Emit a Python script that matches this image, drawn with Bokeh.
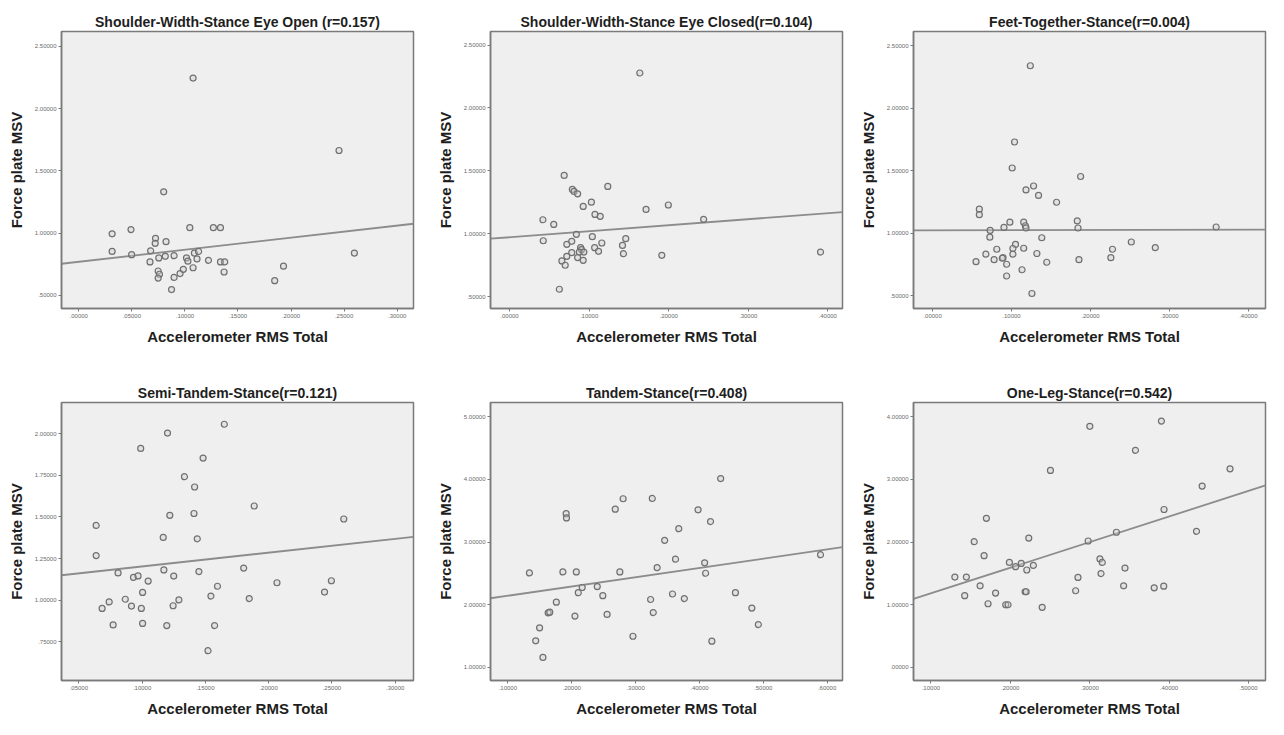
from bokeh.plotting import figure
from bokeh.layouts import column, row
from bokeh.models import FixedTicker, Range1d, ColumnDataSource
from bokeh.embed import file_html
from bokeh.resources import INLINE

# ---------------- data ----------------
titles = [
    "Shoulder-Width-Stance Eye Open (r=0.157)",
    "Shoulder-Width-Stance Eye Closed(r=0.104)",
    "Feet-Together-Stance(r=0.004)",
    "Semi-Tandem-Stance(r=0.121)",
    "Tandem-Stance(r=0.408)",
    "One-Leg-Stance(r=0.542)",
]
x_label = "Accelerometer RMS Total"
y_label = "Force plate MSV"

# panel 1
x1 = [0.1077, 0.2452, 0.0800, 0.0314, 0.0492, 0.0314, 0.0498, 0.0723, 0.0720, 0.0822,
      0.1046, 0.1268, 0.1335, 0.0677, 0.0671, 0.0754, 0.0815, 0.0898, 0.1015, 0.1028,
      0.1089, 0.1129, 0.1114, 0.1222, 0.1335, 0.1375, 0.1369, 0.0748, 0.0760, 0.0748,
      0.0874, 0.0898, 0.0954, 0.0985, 0.1077, 0.1846, 0.1929, 0.2597]
y1 = [2.244, 1.663, 1.331, 0.994, 1.028, 0.853, 0.827, 0.958, 0.918, 0.931,
      1.044, 1.044, 1.044, 0.858, 0.769, 0.801, 0.814, 0.819, 0.801, 0.775,
      0.840, 0.853, 0.793, 0.782, 0.769, 0.769, 0.688, 0.696, 0.670, 0.639,
      0.547, 0.644, 0.675, 0.709, 0.722, 0.618, 0.735, 0.840]
# panel 2
x2 = [0.1638, 0.0687, 0.0790, 0.0811, 0.0856, 0.1235, 0.1029, 0.0926, 0.1074, 0.1140,
      0.1716, 0.1996, 0.2440, 0.0420, 0.0556, 0.0424, 0.0840, 0.1041, 0.0720, 0.0782,
      0.0893, 0.0905, 0.0877, 0.0934, 0.0782, 0.0720, 0.0658, 0.0700, 0.0856, 0.0926,
      0.1070, 0.1119, 0.1160, 0.1420, 0.1461, 0.1432, 0.1914, 0.0626, 0.3909]
y2 = [2.278, 1.463, 1.352, 1.336, 1.317, 1.376, 1.251, 1.217, 1.153, 1.138,
      1.193, 1.228, 1.114, 1.111, 1.074, 0.944, 0.995, 0.976, 0.915, 0.939,
      0.889, 0.873, 0.854, 0.854, 0.849, 0.820, 0.783, 0.749, 0.810, 0.788,
      0.889, 0.860, 0.926, 0.907, 0.960, 0.841, 0.828, 0.558, 0.854]
# panel 3
x3 = [0.1238, 0.1038, 0.1008, 0.1875, 0.1279, 0.1183, 0.1342, 0.1571, 0.0592, 0.0592,
      0.0979, 0.1154, 0.1175, 0.1183, 0.0904, 0.1833, 0.1842, 0.3592, 0.0729, 0.0725,
      0.1383, 0.1050, 0.1017, 0.1154, 0.0813, 0.0675, 0.1017, 0.1321, 0.2517, 0.2279,
      0.2821, 0.2258, 0.1854, 0.0779, 0.0892, 0.0883, 0.0938, 0.1446, 0.0550, 0.1133,
      0.0938, 0.1258]
y3 = [2.338, 1.728, 1.520, 1.452, 1.376, 1.345, 1.301, 1.246, 1.191, 1.147,
      1.087, 1.087, 1.058, 1.040, 1.045, 1.097, 1.040, 1.048, 1.021, 0.967,
      0.962, 0.909, 0.876, 0.878, 0.870, 0.831, 0.831, 0.836, 0.928, 0.870,
      0.883, 0.803, 0.787, 0.787, 0.803, 0.798, 0.750, 0.766, 0.771, 0.706,
      0.656, 0.516]
# panel 4
x4 = [0.1650, 0.1201, 0.0989, 0.1482, 0.1335, 0.1415, 0.1886, 0.1410, 0.1219, 0.2594,
      0.0637, 0.1167, 0.1436, 0.0637, 0.1172, 0.1449, 0.1803, 0.0810, 0.0932, 0.0968,
      0.1250, 0.1048, 0.1596, 0.2066, 0.2496, 0.1004, 0.2442, 0.1544, 0.0867, 0.1291,
      0.1847, 0.0740, 0.0684, 0.0916, 0.0994, 0.1245, 0.0771, 0.1004, 0.1195, 0.1573,
      0.1521]
y4 = [2.057, 2.004, 1.912, 1.854, 1.742, 1.680, 1.566, 1.521, 1.510, 1.488,
      1.449, 1.377, 1.369, 1.268, 1.182, 1.172, 1.193, 1.164, 1.137, 1.146,
      1.145, 1.115, 1.084, 1.105, 1.117, 1.047, 1.049, 1.025, 1.006, 1.002,
      1.010, 0.990, 0.951, 0.965, 0.951, 0.967, 0.852, 0.861, 0.848, 0.848,
      0.697]
# panel 5
x5 = [0.4333, 0.2805, 0.3262, 0.2682, 0.3979, 0.1913, 0.1918, 0.4174, 0.3677, 0.3456,
      0.3626, 0.4082, 0.3338, 0.5897, 0.1338, 0.1862, 0.2072, 0.2754, 0.4097, 0.2164,
      0.2400, 0.2103, 0.2487, 0.3579, 0.4564, 0.3236, 0.3764, 0.1759, 0.1631, 0.1656,
      0.2051, 0.2554, 0.3277, 0.4821, 0.4923, 0.1497, 0.2959, 0.1436, 0.4195, 0.1549]
y5 = [4.013, 3.691, 3.696, 3.525, 3.514, 3.452, 3.384, 3.327, 3.213, 3.026,
      2.725, 2.668, 2.590, 2.797, 2.506, 2.522, 2.522, 2.522, 2.501, 2.273,
      2.288, 2.190, 2.143, 2.169, 2.190, 2.081, 2.096, 2.039, 1.868, 1.878,
      1.816, 1.842, 1.873, 1.945, 1.681, 1.629, 1.494, 1.421, 1.416, 1.156]
# panel 6
x6 = [0.3904, 0.3002, 0.3577, 0.2506, 0.4768, 0.4417, 0.3937, 0.1699, 0.3337, 0.4346,
      0.2233, 0.1546, 0.2981, 0.1670, 0.1989, 0.2067, 0.2138, 0.2291, 0.2208, 0.3130,
      0.3159, 0.3445, 0.3143, 0.1302, 0.1447, 0.2853, 0.1620, 0.3428, 0.3813, 0.3933,
      0.1815, 0.2187, 0.2200, 0.2824, 0.1426, 0.1720, 0.1943, 0.1972, 0.2402]
y6 = [3.932, 3.849, 3.465, 3.143, 3.169, 2.894, 2.519, 2.379, 2.156, 2.171,
      2.062, 2.005, 2.016, 1.782, 1.673, 1.605, 1.657, 1.626, 1.553, 1.730,
      1.673, 1.584, 1.496, 1.439, 1.439, 1.434, 1.299, 1.299, 1.268, 1.294,
      1.184, 1.205, 1.205, 1.221, 1.143, 1.013, 0.997, 0.997, 0.956]

# axis ranges (x_start, x_end, y_start, y_end)
x_ranges = [(-0.0163, 0.3154), (-0.0239, 0.4185), (-0.0242, 0.4217),
            (0.0363, 0.3145), (0.0728, 0.6241), (0.0781, 0.5215)]
y_ranges = [(0.395, 2.618), (0.405, 2.608), (0.396, 2.612),
            (0.518, 2.1875), (0.787, 5.229), (-0.213, 4.229)]

# fit line y-values at left and right edges of x range
fit_left = [0.754, 0.960, 1.021, 1.150, 2.101, 1.091]
fit_right = [1.075, 1.172, 1.027, 1.381, 2.917, 2.904]

# tick values and labels
x_ticks = [
    [0.0, 0.05, 0.10, 0.15, 0.20, 0.25, 0.30],
    [0.0, 0.10, 0.20, 0.30, 0.40],
    [0.0, 0.10, 0.20, 0.30, 0.40],
    [0.05, 0.10, 0.15, 0.20, 0.25, 0.30],
    [0.10, 0.20, 0.30, 0.40, 0.50, 0.60],
    [0.10, 0.20, 0.30, 0.40, 0.50],
]
x_tick_labels = [
    [".00000", ".05000", ".10000", ".15000", ".20000", ".25000", ".30000"],
    [".00000", ".10000", ".20000", ".30000", ".40000"],
    [".00000", ".10000", ".20000", ".30000", ".40000"],
    [".05000", ".10000", ".15000", ".20000", ".25000", ".30000"],
    [".10000", ".20000", ".30000", ".40000", ".50000", ".60000"],
    [".10000", ".20000", ".30000", ".40000", ".50000"],
]
y_ticks = [
    [0.5, 1.0, 1.5, 2.0, 2.5],
    [0.5, 1.0, 1.5, 2.0, 2.5],
    [0.5, 1.0, 1.5, 2.0, 2.5],
    [0.75, 1.0, 1.25, 1.5, 1.75, 2.0],
    [1.0, 2.0, 3.0, 4.0, 5.0],
    [0.0, 1.0, 2.0, 3.0, 4.0],
]
y_tick_labels = [
    [".50000", "1.00000", "1.50000", "2.00000", "2.50000"],
    [".50000", "1.00000", "1.50000", "2.00000", "2.50000"],
    [".50000", "1.00000", "1.50000", "2.00000", "2.50000"],
    [".75000", "1.00000", "1.25000", "1.50000", "1.75000", "2.00000"],
    ["1.00000", "2.00000", "3.00000", "4.00000", "5.00000"],
    [".00000", "1.00000", "2.00000", "3.00000", "4.00000"],
]

xs = [x1, x2, x3, x4, x5, x6]
ys = [y1, y2, y3, y4, y5, y6]

# ---------------- layout ----------------
col_widths = [432, 419, 417]
col_left = [61, 58, 62]
frame_w = 352
row_heights = [362, 357]
row_top = [31, 40]
row_frame_h = [277, 280]

FONT = "Liberation Sans"
figs = []
for i in range(6):
    r, c = divmod(i, 3)
    left = col_left[c]
    width = col_widths[c]
    right = width - left - frame_w
    bottom = row_heights[r] - row_top[r] - row_frame_h[r]
    p = figure(width=width, height=row_heights[r], output_backend="svg",
               toolbar_location=None,
               x_range=Range1d(*x_ranges[i]), y_range=Range1d(*y_ranges[i]),
               min_border_left=left, min_border_right=right,
               min_border_top=row_top[r], min_border_bottom=bottom)
    p.border_fill_color = "white"
    p.background_fill_color = "#efefef"
    p.outline_line_color = "#7a7a7a"
    p.outline_line_width = 1.5
    p.xgrid.visible = False
    p.ygrid.visible = False

    p.title.text = titles[i]
    p.title.align = "center"
    p.title.text_font = FONT
    p.title.text_font_size = "14px"
    p.title.text_font_style = "bold"
    p.title.text_color = "#1e1e1e"
    p.title.standoff = 3

    for ax, ticks, labels in ((p.xaxis[0], x_ticks[i], x_tick_labels[i]),
                              (p.yaxis[0], y_ticks[i], y_tick_labels[i])):
        ax.ticker = FixedTicker(ticks=ticks)
        ax.major_label_overrides = {t: l for t, l in zip(ticks, labels)}
        ax.major_label_text_font = FONT
        ax.major_label_text_font_size = "6px"
        ax.major_label_text_color = "#6a6a6a"
        ax.major_label_standoff = 2
        ax.major_tick_in = 0
        ax.major_tick_out = 3
        ax.major_tick_line_color = "#7a7a7a"
        ax.minor_tick_line_color = None
        ax.axis_line_color = "#7a7a7a"
        ax.axis_line_width = 1.5
        ax.axis_label_text_font = FONT
        ax.axis_label_text_font_size = "15px"
        ax.axis_label_text_font_style = "bold"
        ax.axis_label_text_color = "#1e1e1e"
        ax.axis_label_standoff = 7

    p.yaxis[0].major_label_orientation = "horizontal"
    p.xaxis[0].axis_label = x_label
    p.yaxis[0].axis_label = y_label

    # fit line across the whole x range
    xr = x_ranges[i]
    p.line(x=[xr[0], xr[1]], y=[fit_left[i], fit_right[i]],
           line_color="#8c8c8c", line_width=1.8)
    src = ColumnDataSource(dict(x=xs[i], y=ys[i]))
    p.scatter("x", "y", source=src, size=6, marker="circle",
              fill_color="#cfcfcf", fill_alpha=0.4,
              line_color="#707070", line_width=1.2)
    figs.append(p)

layout = column(row(*figs[:3], spacing=0), row(*figs[3:], spacing=0), spacing=0)

open("out.html", "w").write(file_html(layout, INLINE))
